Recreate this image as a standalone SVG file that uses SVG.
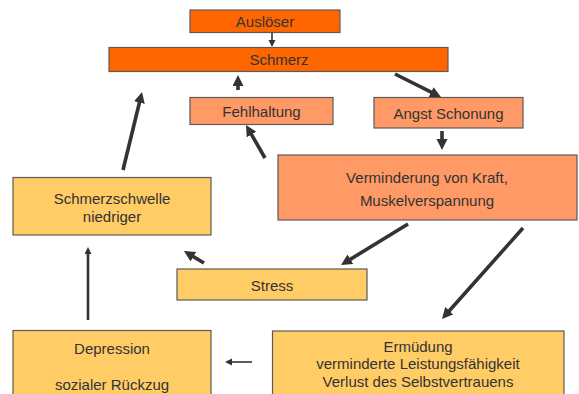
<svg xmlns="http://www.w3.org/2000/svg" width="579" height="394" viewBox="0 0 579 394">
<style>
.box{stroke:#5a5a5a;stroke-width:1.2}
.o1{fill:#ff6600}
.o2{fill:#ff9966}
.y{fill:#ffcc66}
text{font-family:"Liberation Sans",Arial,sans-serif;font-size:15px;fill:#333;text-anchor:middle}
.thick{stroke:#333;stroke-width:3.6;fill:none;marker-end:url(#hd)}
.thin{stroke:#333;stroke-width:1.6;fill:none;marker-end:url(#hs)}
.mid{stroke:#333;stroke-width:2.6;fill:none;marker-end:url(#hs)}
</style>
<defs>
<marker id="hd" markerUnits="userSpaceOnUse" markerWidth="12" markerHeight="12" refX="5" refY="5.5" orient="auto"><path d="M0,0 L11,5.5 L0,11 z" fill="#333"/></marker>
<marker id="hs" markerUnits="userSpaceOnUse" markerWidth="8" markerHeight="8" refX="3" refY="3.5" orient="auto"><path d="M0,0 L7,3.5 L0,7 z" fill="#333"/></marker>
</defs>
<rect width="579" height="394" fill="#fff"/>
<g id="ausloeser"><rect class="box o1" x="190" y="10" width="150" height="22.5"/><text x="265" y="26.5">Auslöser</text></g>
<g id="schmerz"><rect class="box o1" x="109" y="47.5" width="339" height="24"/><text x="279" y="65">Schmerz</text></g>
<g id="fehlhaltung"><rect class="box o2" x="190" y="97.5" width="143" height="27"/><text x="261.5" y="116.5">Fehlhaltung</text></g>
<g id="angst"><rect class="box o2" x="374" y="97.5" width="149" height="30.5"/><text x="448.5" y="118.5">Angst Schonung</text></g>
<g id="verminderung"><rect class="box o2" x="278" y="155" width="299" height="65"/><text x="427" y="182.5">Verminderung von Kraft,</text><text x="427" y="205.5">Muskelverspannung</text></g>
<g id="schmerzschwelle"><rect class="box y" x="13" y="177.5" width="198" height="57.5"/><text x="112" y="203.5">Schmerzschwelle</text><text x="112" y="221.5">niedriger</text></g>
<g id="stress"><rect class="box y" x="177" y="269" width="190" height="31"/><text x="272" y="291">Stress</text></g>
<g id="depression"><rect class="box y" x="13" y="330.5" width="198" height="70"/><text x="112" y="353.5">Depression</text><text x="112" y="389.5">sozialer Rückzug</text></g>
<g id="ermuedung"><rect class="box y" x="272.5" y="331" width="291.5" height="70"/><text x="418" y="351.5">Ermüdung</text><text x="418" y="369">verminderte Leistungsfähigkeit</text><text x="418" y="386.5">Verlust des Selbstvertrauens</text></g>
<g id="connectors">
<line class="thin" x1="272" y1="33" x2="272" y2="43"/>
<line class="thick" x1="395" y1="74" x2="435.6" y2="94.3"/>
<line class="thick" x1="238" y1="90" x2="238" y2="81"/>
<line class="thick" x1="442" y1="131" x2="442" y2="144"/>
<line class="thick" x1="265" y1="158" x2="249" y2="130.2"/>
<line class="thick" x1="123" y1="170" x2="140.6" y2="97.8"/>
<line class="thick" x1="408" y1="224" x2="346.1" y2="261.9"/>
<line class="thick" x1="523" y1="228" x2="446" y2="314.5"/>
<line class="thick" x1="204" y1="263" x2="189.1" y2="254.1"/>
<line class="mid" x1="88" y1="320" x2="88" y2="251"/>
<line class="thin" x1="252" y1="362" x2="229" y2="362"/>
</g>
</svg>
